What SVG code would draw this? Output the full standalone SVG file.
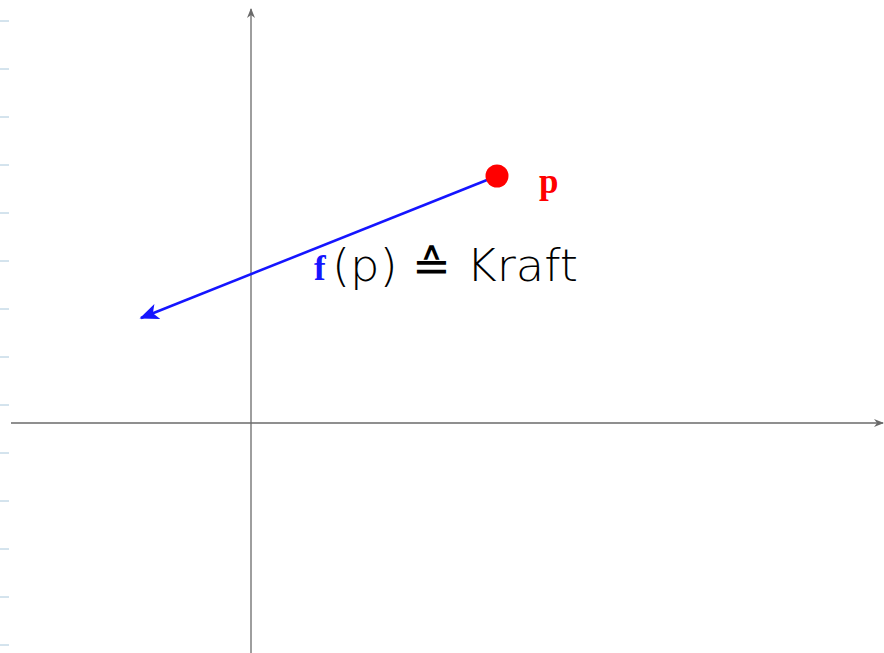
<svg xmlns="http://www.w3.org/2000/svg" width="884" height="653" viewBox="0 0 884 653">
<defs>
<style>
.tick{stroke:#a9c8dc;stroke-width:1}
.axis{stroke:#6a6a6a;stroke-width:1.3;fill:none}
.serif{font-family:"Liberation Serif","DejaVu Serif",serif;font-weight:bold}
.hand{font-family:"DejaVu Sans","Liberation Sans",sans-serif;font-weight:300}
</style>
<marker id="ax" viewBox="0 0 10 10" refX="9" refY="5" markerWidth="10" markerHeight="10" markerUnits="userSpaceOnUse" orient="auto">
<path d="M0,1 L10,5 L0,9 L3,5 Z" fill="#6a6a6a"/>
</marker>
<marker id="bl" viewBox="0 0 12 10" refX="11" refY="5" markerWidth="24" markerHeight="16" markerUnits="userSpaceOnUse" orient="auto">
<path d="M0,0 L12,5 L0,10 L3,5 Z" fill="#1515ff"/>
</marker>
</defs>
<rect width="884" height="653" fill="#ffffff"/>
<g id="ticks">
<line class="tick" x1="0" y1="21" x2="9" y2="21"/>
<line class="tick" x1="0" y1="69" x2="9" y2="69"/>
<line class="tick" x1="0" y1="117" x2="9" y2="117"/>
<line class="tick" x1="0" y1="165" x2="9" y2="165"/>
<line class="tick" x1="0" y1="213" x2="9" y2="213"/>
<line class="tick" x1="0" y1="261" x2="9" y2="261"/>
<line class="tick" x1="0" y1="309" x2="9" y2="309"/>
<line class="tick" x1="0" y1="357" x2="9" y2="357"/>
<line class="tick" x1="0" y1="405" x2="9" y2="405"/>
<line class="tick" x1="0" y1="453" x2="9" y2="453"/>
<line class="tick" x1="0" y1="501" x2="9" y2="501"/>
<line class="tick" x1="0" y1="549" x2="9" y2="549"/>
<line class="tick" x1="0" y1="597" x2="9" y2="597"/>
<line class="tick" x1="0" y1="645" x2="9" y2="645"/>
</g>
<g id="axes">
<line class="axis" x1="11" y1="423" x2="883" y2="423" marker-end="url(#ax)"/>
<line class="axis" x1="251" y1="653" x2="251" y2="9" marker-end="url(#ax)"/>
</g>
<g id="vector">
<line x1="497" y1="176" x2="141" y2="318" stroke="#1515ff" stroke-width="2.6" marker-end="url(#bl)"/>
</g>
<g id="point">
<circle cx="497" cy="176" r="11.5" fill="#ff0000"/>
<text class="serif" x="539" y="193" font-size="35" fill="#ff0000">p</text>
</g>
<g id="label">
<text class="serif" x="314" y="280" font-size="35" fill="#1515ff">f</text>
<text class="hand" x="332" y="281" font-size="44" textLength="246" lengthAdjust="spacingAndGlyphs" fill="#000">(p) ≙ Kraft</text>
</g>
</svg>
